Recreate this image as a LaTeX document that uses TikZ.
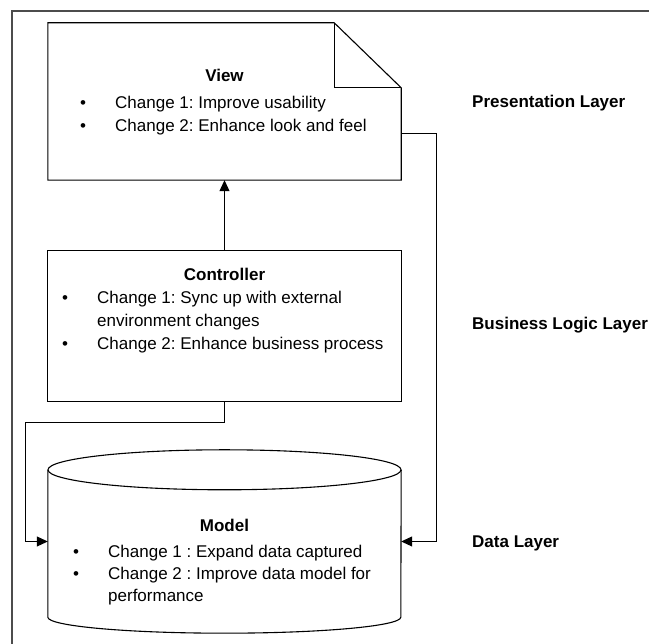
\documentclass[tikz,border=0pt]{standalone}
\usepackage{fontspec}
\setmainfont{Liberation Sans}
\frenchspacing
\usetikzlibrary{arrows.meta}
\newcommand{\boxfont}{\fontsize{17}{23}\selectfont}
\tikzset{
  outline/.style={draw,line width=1.1pt},
  shapebox/.style={minimum width=353pt,inner sep=0pt},
  title/.style={anchor=base,inner sep=0pt,font=\boxfont\bfseries},
  items/.style={anchor=base west,inner sep=0pt,font=\boxfont},
  layer/.style={anchor=base west,inner sep=0pt,font=\boxfont\bfseries},
  conn/.style={line width=1pt,-{Triangle[length=11pt,width=10pt]}},
  frame/.style={line width=1.5pt,black!70}
}

\begin{document}
\begin{tikzpicture}[x=1pt,y=1pt]
    \useasboundingbox (0,0) rectangle (649,644);
    \draw[frame] (12,0) |- (649,633);

    % the three parts
    \node[shapebox,minimum height=157pt] (view) at (224.5,542.5) {};
    \node[shapebox,minimum height=150pt] (ctrl) at (224.5,318) {};
    \node[shapebox,minimum height=183pt] (model) at (224.5,102.5) {};

    % page with a folded corner
    \draw[outline] (view.south west) -- (view.north west) -- ([xshift=-67pt]view.north east)
        -- ([yshift=-65pt]view.north east) -- (view.south east) -- cycle;
    \draw[outline] ([xshift=-67pt]view.north east) |- ([yshift=-65pt]view.north east);

    \draw[outline] (ctrl.south west) rectangle (ctrl.north east);

    % database drum
    \draw[outline] ([yshift=-20pt]model.north) ellipse [x radius=176.5pt,y radius=20pt];
    \draw[outline] ([yshift=-20pt]model.north west) -- ([yshift=16pt]model.south west)
        arc[start angle=180,end angle=360,x radius=176.5pt,y radius=16pt]
        -- ([yshift=-20pt]model.north east);

    \node[title] (viewtitle) at (224.5,562) {View};
    \node[items] (viewtext) at (80,535) {\begin{tabular}[t]{@{}p{35pt}@{}l@{}}
        \textbullet & Change 1: Improve usability\\
        \textbullet & Change 2: Enhance look and feel
      \end{tabular}};

    \node[title] (ctrltitle) at (224.5,363) {Controller};
    \node[items] (ctrltext) at (62,340) {\begin{tabular}[t]{@{}p{35pt}@{}l@{}}
        \textbullet & Change 1: Sync up with external\\
                    & environment changes\\
        \textbullet & Change 2: Enhance business process
      \end{tabular}};

    \node[title] (modeltitle) at (224.5,112) {Model};
    \node[items,font=\fontsize{17}{22}\selectfont] (modeltext) at (73,86) {\begin{tabular}[t]{@{}p{35pt}@{}l@{}}
        \textbullet & Change 1 : Expand data captured\\
        \textbullet & Change 2 : Improve data model for\\
                    & performance
      \end{tabular}};

    % layer names
    \node[layer] (prlayer) at (472,536) {Presentation Layer};
    \node[layer] (bizlayer) at (472,314) {Business Logic Layer};
    \node[layer] (datalayer) at (472,96) {Data Layer};

    % connectors
    \coordinate (viewout) at ([yshift=-32pt]view.east);
    \coordinate (lbend) at (25,221);
    \draw[conn] (ctrl.north) -- (view.south);
    \draw[conn] (viewout) -| ([xshift=35pt]model.east) -- (model.east);
    \draw[conn] (ctrl.south) |- (lbend) |- (model.west);
\end{tikzpicture}
\end{document}
